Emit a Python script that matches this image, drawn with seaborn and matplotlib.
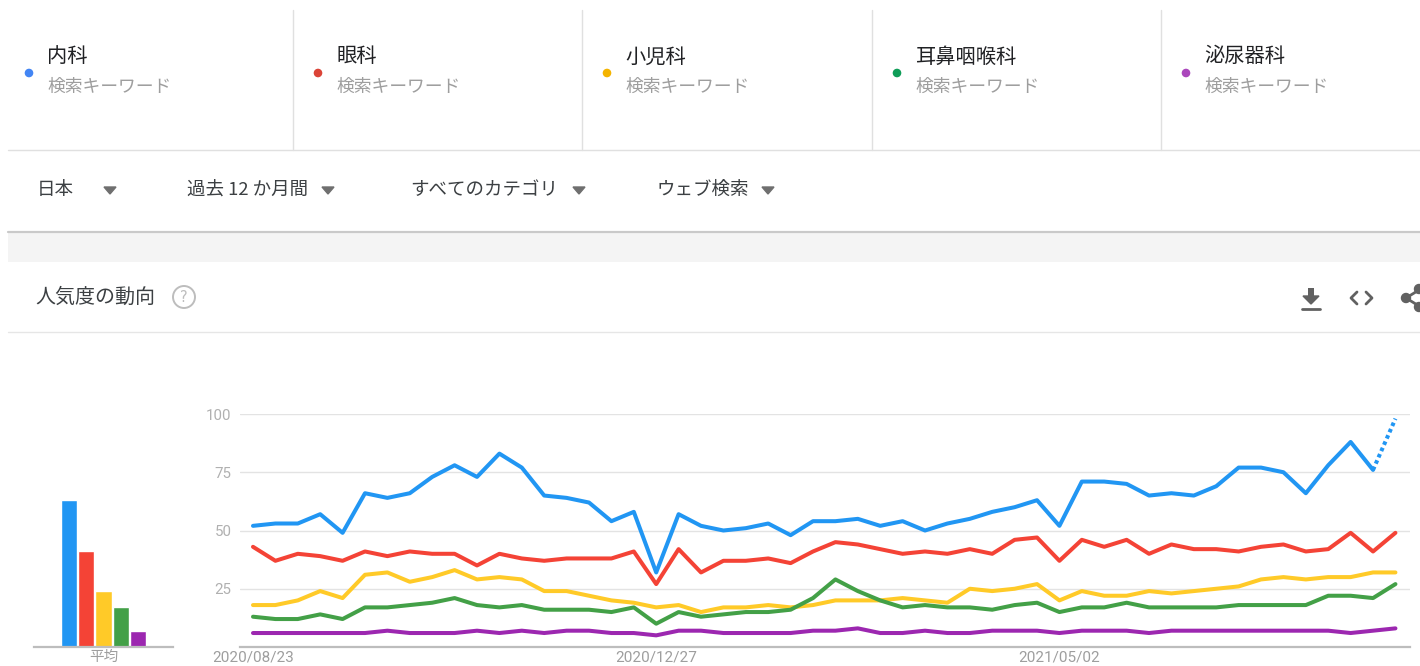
import matplotlib
matplotlib.use("Agg")
import numpy as np
import pandas as pd
import matplotlib.pyplot as plt
import seaborn as sns
from matplotlib.patches import Circle, Polygon, Rectangle

# Suchbegriffe und Farben
terms = ['内科', '眼科', '小児科', '耳鼻咽喉科', '泌尿器科']
line_colors = ['#2196f3', '#f44336', '#ffca28', '#43a047', '#9c27b0']
dot_colors = ['#4285f4', '#db4437', '#f4b400', '#0f9d58', '#ab47bc']
subtitle = '検索キーワード'
filters = ['日本', '過去 12 か月間', 'すべてのカテゴリ', 'ウェブ検索']
section_title = '人気度の動向'
avg_label = '平均'

# Wochenwerte (ab 2020/08/23, woechentlich)
start_date = '2020-08-23'
tick_labels = ['2020/08/23', '2020/12/27', '2021/05/02']
y_ticks = [25, 50, 75, 100]

naika = [52, 53, 53, 57, 49, 66, 64, 66, 73, 78, 73, 83, 77, 65, 64, 62, 54,
         58, 32, 57, 52, 50, 51, 53, 48, 54, 54, 55, 52, 54, 50, 53, 55, 58, 60,
         63, 52, 71, 71, 70, 65, 66, 65, 69, 77, 77, 75, 66, 78, 88, 76, 98]
ganka = [43, 37, 40, 39, 37, 41, 39, 41, 40, 40, 35, 40, 38, 37, 38, 38, 38,
         41, 27, 42, 32, 37, 37, 38, 36, 41, 45, 44, 42, 40, 41, 40, 42, 40, 46,
         47, 37, 46, 43, 46, 40, 44, 42, 42, 41, 43, 44, 41, 42, 49, 41, 49]
shonika = [18, 18, 20, 24, 21, 31, 32, 28, 30, 33, 29, 30, 29, 24, 24, 22, 20,
           19, 17, 18, 15, 17, 17, 18, 17, 18, 20, 20, 20, 21, 20, 19, 25, 24, 25,
           27, 20, 24, 22, 22, 24, 23, 24, 25, 26, 29, 30, 29, 30, 30, 32, 32]
jibika = [13, 12, 12, 14, 12, 17, 17, 18, 19, 21, 18, 17, 18, 16, 16, 16, 15,
          17, 10, 15, 13, 14, 15, 15, 16, 21, 29, 24, 20, 17, 18, 17, 17, 16, 18,
          19, 15, 17, 17, 19, 17, 17, 17, 17, 18, 18, 18, 18, 22, 22, 21, 27]
hinyokika = [6, 6, 6, 6, 6, 6, 7, 6, 6, 6, 7, 6, 7, 6, 7, 7, 6,
             6, 5, 7, 7, 6, 6, 6, 6, 7, 7, 8, 6, 6, 7, 6, 6, 7, 7,
             7, 6, 7, 7, 7, 6, 7, 7, 7, 7, 7, 7, 7, 7, 6, 7, 8]
averages = [63, 41, 24, 17, 7]

series = [naika, ganka, shonika, jibika, hinyokika]
dates = pd.date_range(start_date, periods=len(naika), freq='7D')

# Long-Format fuer seaborn; letzter (unvollstaendiger) Punkt von 内科 separat gestrichelt
rows = []
for term, vals in zip(terms, series):
    for d, v in zip(dates, vals):
        rows.append({'date': d, 'term': term, 'value': v})
df = pd.DataFrame(rows)
last_date = dates[-1]
df_solid = df[~((df['term'] == terms[0]) & (df['date'] == last_date))]
df_dotted = df[(df['term'] == terms[0]) & (df['date'] >= dates[-2])]
df_avg = pd.DataFrame({'term': terms, 'avg': averages})

sns.set_theme(style='white')
plt.rcParams['font.family'] = ['Noto Sans CJK JP', 'DejaVu Sans']
plt.rcParams['lines.solid_joinstyle'] = 'round'

W, H = 1420, 666
fig = plt.figure(figsize=(W / 100, H / 100), dpi=100)

# Hintergrund-Achse in Pixelkoordinaten
bg = fig.add_axes([0, 0, 1, 1])
bg.set_xlim(0, W)
bg.set_ylim(H, 0)
bg.axis('off')

# Kopfzeile mit Suchbegriffen
sep_x = [293, 582, 872, 1161]
for x in sep_x:
    bg.plot([x, x], [10, 150], color='#e0e0e0', lw=1)
bg.plot([8, W], [150, 150], color='#e0e0e0', lw=1)
col_x = [8, 297, 586, 876, 1165]
for cx, term, dc in zip(col_x, terms, dot_colors):
    bg.add_patch(Circle((cx + 21, 73), 3.6, color=dc))
    bg.text(cx + 39, 57, term, fontsize=14.6, color='#202124', va='center', ha='left')
    bg.text(cx + 39, 87, subtitle, fontsize=12.8, color='#9e9e9e', va='center', ha='left')

# Filterzeile
filter_x = [37, 187, 410, 657]
tri_x = [110, 328, 579, 768]
for fx, tx, label in zip(filter_x, tri_x, filters):
    bg.text(fx, 190, label, fontsize=13.3, color='#3c4043', va='center', ha='left')
    bg.add_patch(Polygon([[tx - 6, 187], [tx + 6, 187], [tx, 194]], closed=True, color='#6f6f6f'))

# Schatten und grauer Streifen
bg.add_patch(Rectangle((8, 233), W - 8, 29, color='#f4f4f4', lw=0))
bg.plot([8, W], [232, 232], color='#c9c9c9', lw=1.6)
bg.plot([8, W], [332, 332], color='#e6e6e6', lw=1)

# Abschnittstitel
bg.text(35, 297, section_title, fontsize=14.4, color='#3c4043', va='center', ha='left')
bg.add_patch(Circle((184, 297), 11, fill=False, edgecolor='#bdbdbd', lw=1.4))
bg.text(184, 297.5, '?', fontsize=10.5, color='#bdbdbd', va='center', ha='center', family='DejaVu Sans')

# Icons rechts
icon_c = '#616161'
bg.add_patch(Rectangle((1308, 288), 6, 9, color=icon_c, lw=0))
bg.add_patch(Polygon([[1303, 296], [1319, 296], [1311, 304]], closed=True, color=icon_c))
bg.plot([1302, 1320], [309, 309], color=icon_c, lw=2)
bg.plot([1357, 1351, 1357], [292, 298, 304], color=icon_c, lw=2)
bg.plot([1366, 1372, 1366], [292, 298, 304], color=icon_c, lw=2)
bg.plot([1406, 1419], [298, 290], color=icon_c, lw=2)
bg.plot([1406, 1419], [298, 306], color=icon_c, lw=2)
bg.add_patch(Circle((1406, 298), 4.5, color=icon_c))
bg.add_patch(Circle((1419, 289), 4.5, color=icon_c))
bg.add_patch(Circle((1419, 307), 4.5, color=icon_c))

# Hauptdiagramm
y_top, y_bot = 414, 647
ax = fig.add_axes([240 / W, (H - y_bot) / H, (1410 - 240) / W, (y_bot - y_top) / H])
ax.patch.set_alpha(0)
for y in y_ticks:
    ax.axhline(y, color='#e3e3e3', lw=1, zorder=0)
sns.lineplot(data=df_solid, x='date', y='value', hue='term', hue_order=terms,
             palette=line_colors, lw=2.9, legend=False, ax=ax, clip_on=False)
sns.lineplot(data=df_dotted, x='date', y='value', color=line_colors[0], lw=2.9,
             linestyle=(0, (0.9, 0.8)), dash_capstyle='butt', legend=False, ax=ax, clip_on=False)
week = pd.Timedelta(days=7)
ax.set_xlim(dates[0] - 0.58 * week, dates[0] + 51.65 * week)
ax.set_ylim(0, 100)
ax.set_yticks(y_ticks)
ax.set_yticklabels([str(v) for v in y_ticks])
tick_dates = pd.to_datetime(tick_labels, format='%Y/%m/%d')
ax.set_xticks(tick_dates)
ax.set_xticklabels(tick_labels)
ax.tick_params(axis='y', length=0, pad=6, labelsize=10.8, labelcolor='#b0b0b0')
ax.tick_params(axis='x', length=0, pad=2.5, labelsize=11, labelcolor='#9e9e9e')
for lab in ax.get_xticklabels() + ax.get_yticklabels():
    lab.set_family(['Roboto', 'DejaVu Sans'])
ax.set_xlabel('')
ax.set_ylabel('')
for s in ['top', 'right', 'left']:
    ax.spines[s].set_visible(False)
ax.spines['bottom'].set_color('#bdbdbd')
ax.spines['bottom'].set_linewidth(1.6)

# Balken fuer den Durchschnitt
axb = fig.add_axes([34 / W, (H - y_bot) / H, (173 - 34) / W, (y_bot - y_top) / H])
axb.patch.set_alpha(0)
sns.barplot(data=df_avg, x='term', y='avg', hue='term', palette=line_colors,
            width=0.94, legend=False, ax=axb, saturation=1)
axb.set_xlim(-2.06, 6.06)
axb.set_ylim(0, 100)
axb.set_xticks([2])
axb.set_xticklabels([avg_label])
axb.set_yticks([])
axb.tick_params(axis='x', length=0, pad=2.5, labelsize=10.5, labelcolor='#9e9e9e')
axb.set_xlabel('')
axb.set_ylabel('')
for s in ['top', 'right', 'left']:
    axb.spines[s].set_visible(False)
axb.spines['bottom'].set_color('#bdbdbd')
axb.spines['bottom'].set_linewidth(1.6)

fig.savefig('out.png', dpi=100)
